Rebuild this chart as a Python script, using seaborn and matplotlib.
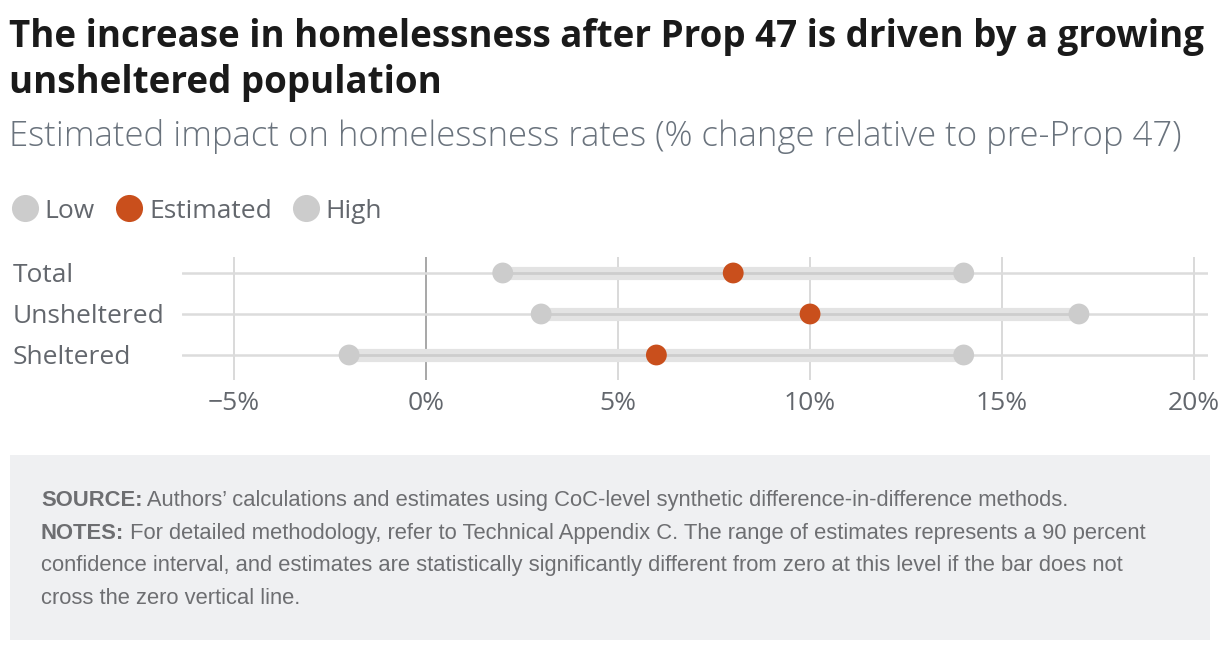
import matplotlib
matplotlib.use("Agg")
import matplotlib.pyplot as plt
import seaborn as sns
import pandas as pd
from matplotlib.lines import Line2D
from matplotlib.patches import Rectangle

categories = ["Total", "Unsheltered", "Sheltered"]
low = [2, 3, -2]
estimated = [8, 10, 6]
high = [14, 17, 14]
xticks = [-5, 0, 5, 10, 15, 20]
xtick_labels = ["\u22125%", "0%", "5%", "10%", "15%", "20%"]

GRAY_DOT = "#cccccc"
ORANGE = "#c94f1c"
TEXT = "#63676d"
SUB = "#6a737d"

sns.set_theme(style="white")
plt.rcParams["font.family"] = ["Open Sans", "DejaVu Sans"]

W, H = 1220, 652
fig = plt.figure(figsize=(W / 100, H / 100), dpi=100)
fig.patch.set_facecolor("white")

def fx(px):
    return px / W

def fy(py):
    return 1 - py / H

ax = fig.add_axes([fx(182), fy(380), fx(1208) - fx(182), (380 - 257) / H])
ax.set_facecolor("white")

df = pd.DataFrame({
    "category": categories * 3,
    "value": low + estimated + high,
    "kind": ["Low"] * 3 + ["Estimated"] * 3 + ["High"] * 3,
})
ypos = {c: i for i, c in enumerate(categories)}
df["y"] = df["category"].map(ypos)

# vertical gridlines
for t in xticks:
    ax.axvline(t, color="#d9d9d9", lw=1.4, zorder=0)
ax.axvline(0, color="#a8a8a8", lw=1.4, zorder=1)

# row lines
for i in range(len(categories)):
    ax.axhline(i, color="#dcdcdc", lw=1.8, zorder=1)

# range bands
for i in range(len(categories)):
    ax.hlines(i, low[i], high[i], color="#e3e3e3", lw=9.5, zorder=2)
    ax.hlines(i, low[i], high[i], color="#cdcdcd", lw=2, zorder=2.5)

sns.scatterplot(data=df, x="value", y="y", hue="kind",
                palette={"Low": GRAY_DOT, "Estimated": ORANGE, "High": GRAY_DOT},
                hue_order=["Low", "High", "Estimated"],
                s=225, edgecolor="none", linewidth=0, legend=False, ax=ax, zorder=3)

ax.set_xlim(-6.35, 20.36)
ax.set_ylim(2.61, -0.39)
ax.set_xticks(xticks)
ax.set_xticklabels(xtick_labels)
ax.set_yticks(range(len(categories)))
ax.set_yticklabels(categories)
ax.set_xlabel("")
ax.set_ylabel("")
for s in ax.spines.values():
    s.set_visible(False)
ax.tick_params(axis="x", length=0, pad=8, labelsize=19, labelcolor=TEXT)
ax.tick_params(axis="y", length=0, pad=122, labelsize=19, labelcolor=TEXT)
for lab in ax.get_yticklabels():
    lab.set_ha("left")

# Title & subtitle
fig.text(fx(9), fy(46.5), "The increase in homelessness after Prop 47 is driven by a growing",
         fontsize=26.5, fontweight="bold", color="#1a1a1a", va="baseline", ha="left")
fig.text(fx(9), fy(93), "unsheltered population",
         fontsize=26.5, fontweight="bold", color="#1a1a1a", va="baseline", ha="left")
fig.text(fx(9), fy(146.5), "Estimated impact on homelessness rates (% change relative to pre-Prop 47)",
         fontsize=25, fontweight="light", color=SUB, va="baseline", ha="left")

# Legend
handles = [
    Line2D([], [], marker="o", ls="", markersize=19.5, markerfacecolor=GRAY_DOT, markeredgecolor="none"),
    Line2D([], [], marker="o", ls="", markersize=19.5, markerfacecolor=ORANGE, markeredgecolor="none"),
    Line2D([], [], marker="o", ls="", markersize=19.5, markerfacecolor=GRAY_DOT, markeredgecolor="none"),
]
leg = fig.legend(handles, ["Low", "Estimated", "High"], loc="center left",
                 bbox_to_anchor=(fx(5), fy(211)), ncol=3, frameon=False,
                 fontsize=19, labelcolor=TEXT, handletextpad=0.0, columnspacing=0.55,
                 handlelength=1.5, borderaxespad=0, borderpad=0)

# Footer box
fig.patches.append(Rectangle((fx(10), fy(640)), fx(1210) - fx(10), (640 - 455) / H,
                             transform=fig.transFigure, facecolor="#eff0f2",
                             edgecolor="none", zorder=0))

foot_font = ["Liberation Sans", "DejaVu Sans"]
fs = 15.8
FOOT = "#6d6e71"
lines = [
    ("SOURCE:", " Authors\u2019 calculations and estimates using CoC-level synthetic difference-in-difference methods.", 506),
    ("NOTES:", " For detailed methodology, refer to Technical Appendix C. The range of estimates represents a 90 percent", 539),
    ("", "confidence interval, and estimates are statistically significantly different from zero at this level if the bar does not", 571),
    ("", "cross the zero vertical line.", 604),
]
fig.canvas.draw()
renderer = fig.canvas.get_renderer()
for bold, rest, yb in lines:
    x0 = fx(41)
    if bold:
        t = fig.text(x0, fy(yb), bold, fontsize=fs, fontweight="bold", color=FOOT,
                     family=foot_font, va="baseline", ha="left")
        bb = t.get_window_extent(renderer=renderer)
        x0 = bb.x1 / W
    fig.text(x0, fy(yb), rest, fontsize=fs, color=FOOT, family=foot_font,
             va="baseline", ha="left")

fig.savefig("out.png", dpi=100, facecolor="white")
